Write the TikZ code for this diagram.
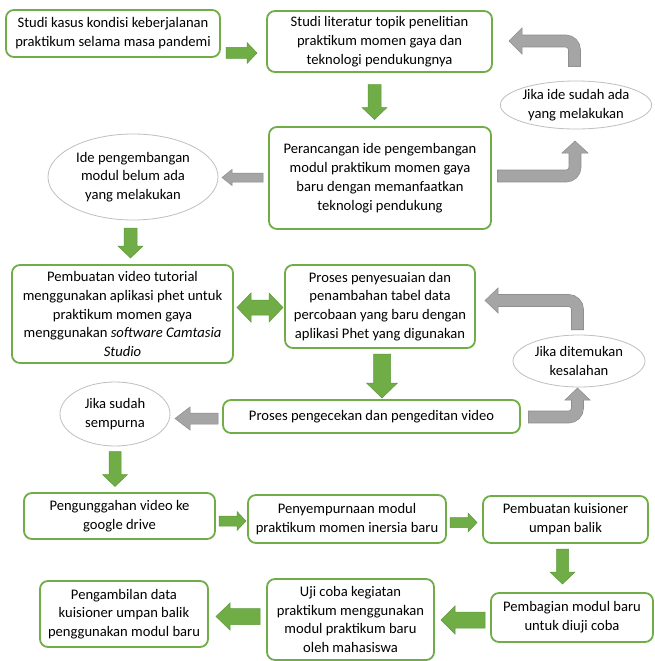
\documentclass[tikz,border=0pt]{standalone}
\usepackage{fontspec}
\setmainfont{Carlito}
\usetikzlibrary{shapes.geometric,calc}
\definecolor{grn}{HTML}{70AD47}
\definecolor{grnd}{HTML}{5E9A3A}
\definecolor{gry}{HTML}{A5A5A5}
\definecolor{gryd}{HTML}{8C8C8C}
\definecolor{ellb}{HTML}{BFBFBF}
\newcommand{\fsz}{\fontsize{14.6pt}{18.8pt}\selectfont}
% block arrow: style, cx, cy, angle, L, W, s, hl
\newcommand{\barrow}[8]{\path[#1, shift={(#2,#3)}, rotate=#4]
  ({-#5/2},{-#7/2}) -- ({#5/2-#8},{-#7/2}) -- ({#5/2-#8},{-#6/2}) -- ({#5/2},0)
  -- ({#5/2-#8},{#6/2}) -- ({#5/2-#8},{#7/2}) -- ({-#5/2},{#7/2}) -- cycle;}
\newcommand{\dblarrow}[8]{\path[#1, shift={(#2,#3)}, rotate=#4]
  ({-#5/2},0) -- ({-#5/2+#8},{-#6/2}) -- ({-#5/2+#8},{-#7/2}) -- ({#5/2-#8},{-#7/2})
  -- ({#5/2-#8},{-#6/2}) -- ({#5/2},0) -- ({#5/2-#8},{#6/2}) -- ({#5/2-#8},{#7/2})
  -- ({-#5/2+#8},{#7/2}) -- ({-#5/2+#8},{#6/2}) -- cycle;}
\tikzset{
  box/.style={draw=grn, line width=1.8pt, rounded corners=8pt, fill=white,
    align=center, inner sep=0pt, font=\fsz},
  ell/.style={ellipse, draw=ellb, line width=0.8pt, fill=white,
    align=center, inner sep=0pt, font=\fsz},
  garr/.style={fill=grn, draw=grnd, line width=0.5pt, line join=miter},
  yarr/.style={fill=gry, draw=gryd, line width=0.5pt, line join=miter},
  ystemo/.style={draw=gryd, line width=12.6pt, rounded corners=9pt},
  ystemi/.style={draw=gry, line width=11.4pt, rounded corners=9pt},
}
\begin{document}
\begin{tikzpicture}[x=1pt,y=-1pt]
\useasboundingbox (0,0) rectangle (654,661);
\fill[white] (0,0) rectangle (654,661);

% boxes
\node[box, minimum width=214, minimum height=47] (b1) at (113,33.5)
  {Studi kasus kondisi keberjalanan\\praktikum selama masa pandemi};
\node[box, minimum width=225, minimum height=61] (b2) at (379.5,41.5)
  {Studi literatur topik penelitian\\praktikum momen gaya dan\\teknologi pendukungnya};
\node[box, minimum width=222, minimum height=102] (b3) at (380,178)
  {Perancangan ide pengembangan\\modul praktikum momen gaya\\baru dengan memanfaatkan\\teknologi pendukung};
\node[box, minimum width=221, minimum height=98] (b4) at (122.5,314)
  {Pembuatan video tutorial\\menggunakan aplikasi phet untuk\\praktikum momen gaya\\menggunakan \textit{software Camtasia}\\\textit{Studio}};
\node[box, minimum width=190, minimum height=83] (b5) at (380,306.5)
  {Proses penyesuaian dan\\penambahan tabel data\\percobaan yang baru dengan\\aplikasi Phet yang digunakan};
\node[box, minimum width=297, minimum height=33] (b6) at (371.5,416.5)
  {Proses pengecekan dan pengeditan video};
\node[box, minimum width=191, minimum height=46] (b7) at (119.5,516)
  {Pengunggahan video ke\\google drive};
\node[box, minimum width=198, minimum height=48] (b8) at (347,519)
  {Penyempurnaan modul\\praktikum momen inersia baru};
\node[box, minimum width=165, minimum height=47] (b9) at (565.5,519.5)
  {Pembuatan kuisioner\\umpan balik};
\node[box, minimum width=162, minimum height=49] (b10) at (572,617.5)
  {Pembagian modul baru\\untuk diuji coba};
\node[box, minimum width=167, minimum height=81] (b11) at (350.5,619.5)
  {Uji coba kegiatan\\praktikum menggunakan\\modul praktikum baru\\oleh mahasiswa};
\node[box, minimum width=168, minimum height=66] (b12) at (124,614)
  {Pengambilan data\\kuisioner umpan balik\\penggunakan modul baru};

% ellipses
\node[ell, minimum width=148, minimum height=48] (e1) at (576,105)
  {Jika ide sudah ada\\yang melakukan};
\node[ell, minimum width=170, minimum height=86] (e2) at (133,177)
  {Ide pengembangan\\modul belum ada\\yang melakukan};
\node[ell, minimum width=132, minimum height=52] (e3) at (579,361)
  {Jika ditemukan\\kesalahan};
\node[ell, minimum width=110, minimum height=64] (e4) at (115,414)
  {Jika sudah\\sempurna};

% green block arrows
\barrow{garr}{241.5}{53}{0}{31}{21}{11}{10}
\barrow{garr}{374.5}{102}{-90}{35}{25}{13}{12}
\barrow{garr}{130.5}{243}{-90}{30}{25}{13}{12}
\dblarrow{garr}{260}{307.5}{0}{46}{29}{15}{14}
\barrow{garr}{382}{376}{-90}{44}{31}{17}{15}
\barrow{garr}{115}{469}{-90}{35}{25}{12}{12}
\barrow{garr}{232.5}{521}{0}{27}{19}{10}{9}
\barrow{garr}{463.5}{522.5}{0}{27}{19}{10}{9}
\barrow{garr}{562.5}{566.5}{-90}{35}{25}{12}{12}
\barrow{garr}{463}{620}{180}{44}{28}{16}{14}
\barrow{garr}{238}{616.5}{180}{44}{27}{16}{14}

% gray straight arrows
\barrow{yarr}{242.5}{177.5}{180}{41}{16}{9}{10}
\barrow{yarr}{196.5}{418.5}{180}{43}{23}{11}{15}

% gray bent arrows
% e1 -> b2
\path[yarr] (522,28) -- (509,41) -- (522,54) -- cycle;
\draw[ystemo] (574.5,67) -- (574.5,41) -- (522,41);
\draw[ystemi] (574.5,66.4) -- (574.5,41) -- (521,41);
% b3 -> e1
\path[yarr] (562,153) -- (575,141) -- (588,153) -- cycle;
\draw[ystemo] (497,176) -- (575,176) -- (575,153);
\draw[ystemi] (497.6,176) -- (575,176) -- (575,152);
% e3 -> b5
\path[yarr] (498,288) -- (485,300.5) -- (498,313) -- cycle;
\draw[ystemo] (577.5,330) -- (577.5,300.5) -- (498,300.5);
\draw[ystemi] (577.5,329.4) -- (577.5,300.5) -- (497,300.5);
% b6 -> e3
\path[yarr] (565,400) -- (577.5,388) -- (590,400) -- cycle;
\draw[ystemo] (528,417) -- (577.5,417) -- (577.5,400);
\draw[ystemi] (528.6,417) -- (577.5,417) -- (577.5,399);
\end{tikzpicture}
\end{document}
